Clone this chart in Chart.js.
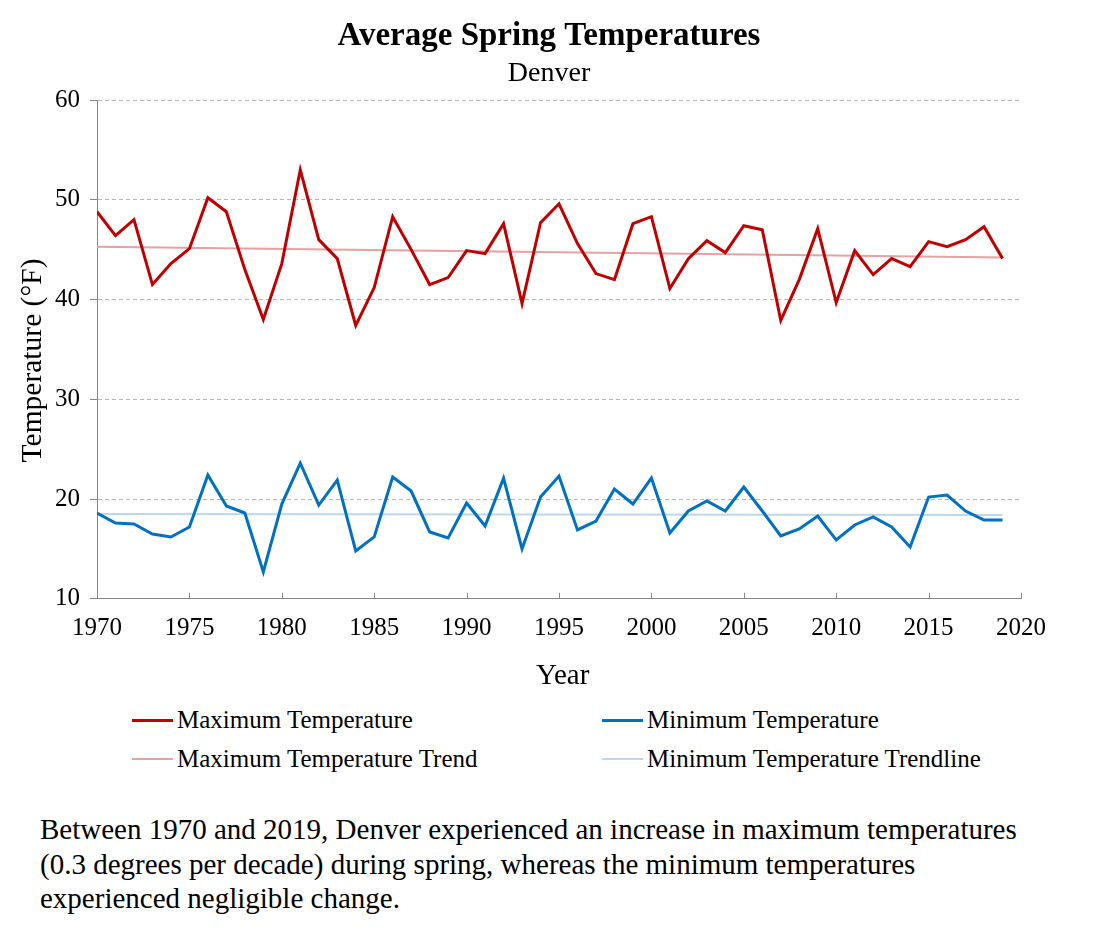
<!DOCTYPE html>
<html>
<head>
<meta charset="utf-8">
<title>Average Spring Temperatures - Denver</title>
<script src="https://cdn.jsdelivr.net/npm/chart.js@4.4.1/dist/chart.umd.min.js"></script>
<style>
    html, body { margin: 0; padding: 0; background: #fff; }
    body { width: 1098px; height: 930px; position: relative; overflow: hidden;
           font-family: 'Liberation Serif', 'Times New Roman', serif; color: #000; }
    #chart { position: absolute; left: 0; top: 0; }
    .legend-item { position: absolute; height: 30px; display: flex; align-items: center;
                   font-size: 25px; white-space: nowrap; }
    .legend-line { width: 41px; margin-right: 4px; }
    #caption { position: absolute; left: 40px; top: 812px; font-size: 29px;
               line-height: 34.5px; white-space: nowrap; }
</style>
</head>
<body>
<canvas id="chart" width="1098" height="694"></canvas>
<div id="legend"></div>
<div id="caption">Between 1970 and 2019, Denver experienced an increase in maximum temperatures<br>(0.3 degrees per decade) during spring, whereas the minimum temperatures<br>experienced negligible change.</div>
<script>
// Data
const years = [
    1970, 1971, 1972, 1973, 1974, 1975, 1976, 1977, 1978, 1979,
    1980, 1981, 1982, 1983, 1984, 1985, 1986, 1987, 1988, 1989,
    1990, 1991, 1992, 1993, 1994, 1995, 1996, 1997, 1998, 1999,
    2000, 2001, 2002, 2003, 2004, 2005, 2006, 2007, 2008, 2009,
    2010, 2011, 2012, 2013, 2014, 2015, 2016, 2017, 2018, 2019
];
const maxTemp = [
    48.8, 46.4, 48.0, 41.5, 43.6, 45.1, 50.2, 48.8, 43.0, 38.0,
    43.6, 53.0, 46.0, 44.1, 37.4, 41.2, 48.3, 45.0, 41.5, 42.2,
    44.9, 44.6, 47.6, 39.6, 47.7, 49.6, 45.6, 42.6, 42.0, 47.6,
    48.3, 41.1, 44.1, 45.9, 44.7, 47.4, 47.0, 37.9, 42.0, 47.1,
    39.7, 44.9, 42.5, 44.1, 43.3, 45.8, 45.3, 46.0, 47.3, 44.1
];
const minTemp = [
    18.6, 17.6, 17.5, 16.5, 16.2, 17.2, 22.4, 19.3, 18.6, 12.7,
    19.5, 23.6, 19.4, 21.9, 14.8, 16.2, 22.2, 20.8, 16.7, 16.1,
    19.6, 17.3, 22.1, 15.0, 20.2, 22.3, 16.9, 17.8, 21.0, 19.5,
    22.1, 16.6, 18.8, 19.8, 18.8, 21.2, 18.8, 16.3, 17.0, 18.3,
    15.9, 17.4, 18.2, 17.2, 15.2, 20.2, 20.4, 18.8, 17.9, 17.9
];
// trend lines: value at the first and last year
const trendYears = [1970, 2019];
const maxTrend = [45.3, 44.2];
const minTrend = [18.5, 18.4];

const seriesNames = ['Maximum Temperature', 'Minimum Temperature',
                     'Maximum Temperature Trend', 'Minimum Temperature Trendline'];

const serif = "'Liberation Serif', 'Times New Roman', serif";
const axisColor = '#868686';

function toPoints(xs, ys) {
    return xs.map((x, i) => ({ x: x, y: ys[i] }));
}

// x axis tick marks point up into the plot, so draw them by hand
const insideTicks = {
    id: 'insideTicks',
    beforeDatasetsDraw(chart) {
        const xs = chart.scales.x;
        const ctx = chart.ctx;
        const bottom = chart.chartArea.bottom;
        ctx.save();
        ctx.strokeStyle = axisColor;
        ctx.lineWidth = 1;
        xs.ticks.forEach(t => {
            const px = Math.round(xs.getPixelForValue(t.value)) + 0.5;
            ctx.beginPath();
            ctx.moveTo(px, bottom);
            ctx.lineTo(px, bottom - 6);
            ctx.stroke();
        });
        ctx.restore();
    }
};

Chart.defaults.font.family = serif;
Chart.defaults.color = '#000';

const ctx = document.getElementById('chart').getContext('2d');
const chart = new Chart(ctx, {
    type: 'line',
    data: {
        datasets: [
            { label: seriesNames[0], data: toPoints(years, maxTemp),
              borderColor: '#C00000', borderWidth: 3 },
            { label: seriesNames[1], data: toPoints(years, minTemp),
              borderColor: '#0070C0', borderWidth: 3 },
            { label: seriesNames[2], data: toPoints(trendYears, maxTrend),
              borderColor: '#E6A1A1', borderWidth: 2 },
            { label: seriesNames[3], data: toPoints(trendYears, minTrend),
              borderColor: '#BDD7EE', borderWidth: 2 }
        ]
    },
    options: {
        responsive: false,
        animation: false,
        elements: {
            point: { radius: 0, hoverRadius: 0 },
            line: { tension: 0, fill: false, borderCapStyle: 'butt', borderJoinStyle: 'miter' }
        },
        layout: { padding: 0 },
        scales: {
            x: {
                type: 'linear',
                min: 1970,
                max: 2020,
                grid: { display: false, drawTicks: false },
                border: { display: true, color: axisColor, width: 1 },
                ticks: {
                    stepSize: 5,
                    padding: 15,
                    font: { size: 25 },
                    maxRotation: 0,
                    callback: function(value) {
                        return String(value);
                    }
                },
                title: {
                    display: true,
                    text: '\u00a0Year',
                    font: { size: 29 },
                    padding: { top: -0.3, bottom: 0.7 }
                }
            },
            y: {
                min: 10,
                max: 60,
                grid: {
                    color: '#b5b5b5',
                    drawTicks: true,
                    tickLength: 7,
                    tickColor: axisColor
                },
                border: { display: true, color: axisColor, width: 1, dash: [4, 3] },
                ticks: {
                    stepSize: 10,
                    padding: 10,
                    font: { size: 25 }
                },
                title: {
                    display: true,
                    text: 'Temperature (°F)\u00a0\u00a0\u00a0',
                    font: { size: 29.5 },
                    padding: { top: 15.3, bottom: -5.7 }
                }
            },
            // empty right-hand box so the plot ends where the reference does
            spacer: {
                type: 'linear',
                position: 'right',
                display: true,
                grid: { display: false },
                border: { display: false },
                ticks: { display: false },
                afterFit: function(scale) {
                    scale.width = 77;
                }
            }
        },
        plugins: {
            legend: { display: false },
            tooltip: { enabled: false },
            title: {
                display: true,
                text: 'Average Spring Temperatures',
                font: { size: 33, weight: 'bold' },
                padding: { top: 16.8, bottom: 0 }
            },
            subtitle: {
                display: true,
                text: 'Denver',
                font: { size: 28 },
                color: '#000',
                padding: { top: 0, bottom: 10 }
            }
        }
    },
    plugins: [insideTicks]
});

// legend below the chart, two columns
const legendSpots = [[132, 720], [602, 720], [132, 759], [602, 759]];
const legendBox = document.getElementById('legend');
chart.data.datasets.forEach((ds, i) => {
    const item = document.createElement('div');
    item.className = 'legend-item';
    item.style.left = legendSpots[i][0] + 'px';
    item.style.top = (legendSpots[i][1] - 15) + 'px';
    const line = document.createElement('span');
    line.className = 'legend-line';
    line.style.height = ds.borderWidth + 'px';
    line.style.background = ds.borderColor;
    const text = document.createElement('span');
    text.textContent = ds.label;
    item.appendChild(line);
    item.appendChild(text);
    legendBox.appendChild(item);
});
</script>
</body>
</html>
